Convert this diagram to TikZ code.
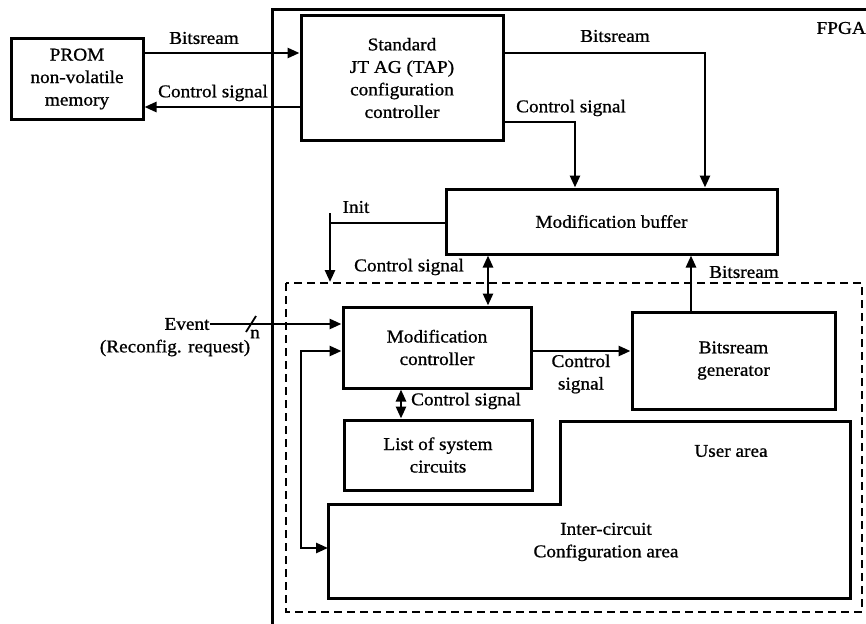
\documentclass[tikz,border=0pt]{standalone}
\usepackage{fontspec}
\setmainfont{Liberation Serif}[FakeStretch=1.07,FakeBold=0.9]
\usetikzlibrary{arrows.meta}
\begin{document}
\begin{tikzpicture}[x=1pt,y=-1pt,
  box/.style={draw,line width=3pt,inner sep=0pt,align=center},
  arr/.style={line width=2.6pt,-{Triangle[length=12pt,width=10pt]}},
  arrb/.style={line width=2.6pt,{Triangle[length=12pt,width=10pt]}-{Triangle[length=12pt,width=10pt]}},
  ln/.style={line width=2.6pt},
  lbl/.style={inner sep=0pt,align=center},
  every node/.style={font=\fontsize{18}{22.5}\selectfont}]
\useasboundingbox[fill=white] (0,0) rectangle (866,623);
% FPGA border
\draw[line width=3pt] (272,640) -- (272,10) -- (870,10);
\node[lbl,anchor=east] (fpga) at (866,28) {FPGA};
% boxes
\node[box,minimum width=132pt,minimum height=80pt] (prom) at (77,79) {PROM\\non-volatile\\memory};
\node[box,minimum width=202pt,minimum height=124pt] (jtag) at (402,78) {Standard\\JT AG (TAP)\\configuration\\controller};
\node[box,minimum width=331pt,minimum height=65pt] (buf) at (611.5,221.5) {Modification buffer};
\node[box,minimum width=188pt,minimum height=81pt] (mc) at (437,347.5) {Modification\\controller};
\node[box,minimum width=203pt,minimum height=97pt] (gen) at (733.5,360.5) {Bitsream\\generator};
\node[box,minimum width=188pt,minimum height=70pt] (list) at (438,455) {List of system\\circuits};
% user area
\draw[line width=3pt] (328,504) -- (560,504) -- (560,421) -- (850,421) -- (850,598) -- (328,598) -- cycle;
\coordinate (ua) at (328,548);
\node[lbl] (ual) at (731,451) {User area};
\node[lbl] (icl) at (606,542) {Inter-circuit\\Configuration area};
% dashed region
\draw[line width=2.4pt,dash pattern=on 8pt off 5pt] (286,283) rectangle (862,612);
% PROM <-> JTAG
\draw[arr] (prom.east |- 0,53) -- (jtag.west |- 0,53);
\node[lbl] (l1) at (204,38) {Bitsream};
\draw[arr] (jtag.west |- 0,107) -- (prom.east |- 0,107);
\node[lbl] (l2) at (213,93) {Control signal};
% JTAG -> buffer
\draw[arr] (jtag.east |- 0,53) -| (buf.north -| 705,0);
\node[lbl] (l3) at (615,36) {Bitsream};
\draw[arr] (jtag.east |- 0,122) -| (buf.north -| 575,0);
\node[lbl] (l4) at (571,108) {Control signal};
% Init
\coordinate (itop) at (330,213);
\coordinate (ibot) at (330,282);
\draw[ln] (buf.west |- 0,223) -- (itop |- 0,223);
\draw[arr] (itop) -- (ibot);
\node[lbl] (l5) at (356,207) {Init};
\node[lbl] (l6) at (409,267) {Control signal};
% buffer <-> mod controller
\draw[arrb] (buf.south -| 488,0) -- (mc.north -| 488,0);
% generator -> buffer
\draw[arr] (gen.north -| 691,0) -- (buf.south -| 691,0);
\node[lbl] (l7) at (744,272) {Bitsream};
% event
\node[lbl] (ev) at (187,324) {Event};
\node[lbl] (evr) at (175,348) {(Reconfig. request)};
\draw[arr] (ev.east) -- (mc.west |- ev.east);
\draw[line width=1.8pt] (246,332) -- (256,316);
\node[lbl] (n) at (255,334) {n};
% mod controller -> generator
\draw[arr] (mc.east |- 0,351) -- (gen.west |- 0,351);
\node[lbl] (l8) at (581,374) {Control\\signal};
% mod controller <-> list
\draw[arrb] (mc.south -| 401,0) -- (list.north -| 401,0);
\node[lbl] (l9) at (466,401) {Control signal};
% loop to inter-circuit area
\draw[arrb] (mc.west |- 0,351) -- (301,351) -- (301,548) -- (ua);
\end{tikzpicture}
\end{document}
